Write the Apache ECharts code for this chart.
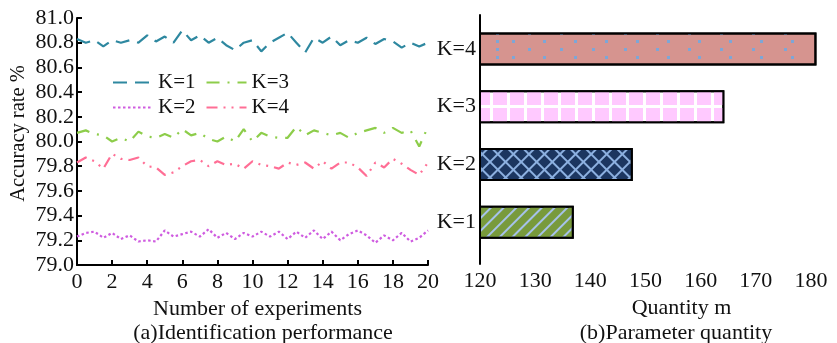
<!DOCTYPE html>
<html>
<head>
<meta charset="utf-8">
<script src="https://cdn.jsdelivr.net/npm/echarts@6/dist/echarts.min.js"></script>
<style>
  html, body { margin: 0; padding: 0; background: #fff; }
  #chart { width: 837px; height: 343px; }
</style>
</head>
<body>
<div id="chart"></div>
<script>
// (a) accuracy per experiment
const expNums = [0, 0.5, 1, 1.5, 2, 2.5, 3, 3.5, 4, 4.5, 5, 5.5, 6, 6.5, 7, 7.5, 8, 8.5, 9, 9.5, 10,
    10.5, 11, 11.5, 12, 12.5, 13, 13.5, 14, 14.5, 15, 15.5, 16, 16.5, 17, 17.5, 18, 18.5, 19, 19.5, 20];
const accK1 = [80.83, 80.80, 80.82, 80.77, 80.82, 80.80, 80.82, 80.80, 80.86, 80.81, 80.85, 80.80, 80.90, 80.82,
    80.86, 80.80, 80.84, 80.78, 80.74, 80.80, 80.82, 80.73, 80.80, 80.84, 80.88, 80.80, 80.72, 80.84, 80.80,
    80.85, 80.78, 80.82, 80.80, 80.84, 80.79, 80.83, 80.81, 80.76, 80.80, 80.77, 80.80];
const accK2 = [79.23, 79.26, 79.27, 79.22, 79.26, 79.21, 79.24, 79.19, 79.20, 79.19, 79.28, 79.23, 79.25, 79.27,
    79.23, 79.29, 79.22, 79.26, 79.21, 79.26, 79.23, 79.27, 79.23, 79.27, 79.21, 79.27, 79.22, 79.28, 79.21,
    79.27, 79.20, 79.25, 79.28, 79.24, 79.18, 79.24, 79.20, 79.26, 79.19, 79.22, 79.28];
const accK3 = [80.07, 80.09, 80.06, 80.05, 80.00, 80.03, 80.00, 80.08, 80.04, 80.03, 80.06, 80.03, 80.10, 80.05,
    80.07, 80.02, 80.00, 80.04, 80.00, 80.10, 80.00, 80.07, 80.04, 80.03, 80.03, 80.12, 80.05, 80.09, 80.07,
    80.05, 80.07, 80.03, 80.07, 80.09, 80.11, 80.07, 80.11, 80.07, 80.09, 79.96, 80.12];
const accK4 = [79.83, 79.87, 79.84, 79.78, 79.90, 79.86, 79.85, 79.87, 79.80, 79.79, 79.73, 79.75, 79.80, 79.84,
    79.85, 79.80, 79.84, 79.81, 79.82, 79.78, 79.84, 79.81, 79.80, 79.78, 79.83, 79.81, 79.83, 79.78, 79.84,
    79.78, 79.83, 79.83, 79.79, 79.72, 79.83, 79.79, 79.86, 79.82, 79.77, 79.73, 79.83];
const lineNames = ['K=1', 'K=2', 'K=3', 'K=4'];

// (b) parameter quantity
const barCats = ['K=1', 'K=2', 'K=3', 'K=4'];
const paramQty = [137, 147.7, 164.3, 181];
const qtyTicks = [120, 130, 140, 150, 160, 170, 180];

const FONT = 'Liberation Serif';

function pairs(xs, ys) {
    return xs.map(function (x, i) { return [x, ys[i]]; });
}

const chart = echarts.init(document.getElementById('chart'), null, { renderer: 'canvas' });

const axisLineStyle = { color: '#000', width: 2 };
const labelStyle = { fontFamily: FONT, fontSize: 22, color: '#111' };

// bar fills with patterns
const barStyles = [
    { color: '#a6c2ea', decal: { symbol: 'rect', symbolSize: 1, color: '#789a3c', dashArrayX: [1, 0], dashArrayY: [7, 1.4], rotation: -Math.PI / 4 } },
    { color: '#8cb0e0', decal: { symbol: 'rect', symbolSize: 1, color: '#1c3660', dashArrayX: [9, 1.5], dashArrayY: [9, 1.5], rotation: Math.PI / 4 } },
    { color: '#ffffff', decal: { symbol: 'rect', symbolSize: 1, color: '#ffc9ff', dashArrayX: [14, 2.2], dashArrayY: [14.5, 2.2], rotation: 0 } },
    { color: '#d6948f', decal: { symbol: 'rect', symbolSize: 1, color: '#7ea6d6', dashArrayX: [[3, 28], [0, 15.5, 3, 12.5]], dashArrayY: [3, 5], rotation: 0 } }
];

const legendText = { fontFamily: FONT, fontSize: 21, color: '#111' };

const option = {
    animation: false,
    backgroundColor: '#fff',
    textStyle: { fontFamily: FONT },
    title: [
        { text: '(a)Identification performance', left: 258, top: 317, textAlign: 'center',
          textStyle: { fontFamily: FONT, fontSize: 22, fontWeight: 'normal', color: '#111' } },
        { text: '(b)Parameter quantity', left: 671, top: 317, textAlign: 'center',
          textStyle: { fontFamily: FONT, fontSize: 22, fontWeight: 'normal', color: '#111' } }
    ],
    legend: [
        { data: ['K=1', 'K=3'], left: 112, top: 72, padding: 0, itemWidth: 40, itemHeight: 14, itemGap: 10,
          itemStyle: { opacity: 0 }, textStyle: legendText },
        { data: ['K=2', 'K=4'], left: 112, top: 97, padding: 0, itemWidth: 40, itemHeight: 14, itemGap: 10,
          itemStyle: { opacity: 0 }, textStyle: legendText }
    ],
    grid: [
        { left: 77, right: 409, top: 18, bottom: 78 },
        { left: 480, right: 4, top: 20, bottom: 92 },
        { left: 480, right: 4, top: 15, bottom: 79 }
    ],
    xAxis: [
        {
            type: 'value', gridIndex: 0, min: 0, max: 20, interval: 2,
            name: 'Number of experiments', nameLocation: 'middle', nameGap: 24,
            nameTextStyle: Object.assign({ padding: [0, 0, 0, 10] }, labelStyle),
            axisLine: { lineStyle: axisLineStyle },
            axisTick: { inside: true, length: 5, lineStyle: axisLineStyle },
            axisLabel: Object.assign({ margin: 6 }, labelStyle),
            splitLine: { show: false }
        },
        {
            type: 'value', gridIndex: 1, min: 120, max: 184, offset: 13,
            name: 'Quantity m', nameLocation: 'middle', nameGap: 27,
            nameTextStyle: Object.assign({ padding: [0, 0, 0, 50] }, labelStyle),
            axisLine: { lineStyle: axisLineStyle },
            axisTick: { inside: true, length: 5, lineStyle: axisLineStyle, customValues: qtyTicks },
            axisLabel: Object.assign({ margin: 6, customValues: qtyTicks }, labelStyle),
            splitLine: { show: false }
        },
        { type: 'value', gridIndex: 2, show: false }
    ],
    yAxis: [
        {
            type: 'value', gridIndex: 0, min: 79, max: 81, interval: 0.2,
            name: 'Accuracy rate %', nameLocation: 'middle', nameGap: 48,
            nameTextStyle: { fontFamily: FONT, fontSize: 20.5, color: '#111', padding: [0, 0, 0, 16] },
            axisLine: { lineStyle: axisLineStyle },
            axisTick: { inside: true, length: 5, lineStyle: axisLineStyle },
            axisLabel: Object.assign({ margin: 3, formatter: function (v) { return v.toFixed(1); } }, labelStyle),
            splitLine: { show: false }
        },
        {
            type: 'category', gridIndex: 1, data: barCats,
            axisLine: { show: false },
            axisTick: { show: false },
            axisLabel: Object.assign({ margin: 4 }, labelStyle)
        },
        {
            type: 'value', gridIndex: 2,
            axisLine: { show: true, lineStyle: axisLineStyle },
            axisTick: { show: false },
            axisLabel: { show: false },
            splitLine: { show: false }
        }
    ],
    series: [
        { name: lineNames[0], type: 'line', xAxisIndex: 0, yAxisIndex: 0, symbol: 'none',
          lineStyle: { color: '#2e88a0', width: 2.2, type: [14, 8] }, itemStyle: { color: '#2e88a0' },
          data: pairs(expNums, accK1) },
        { name: lineNames[1], type: 'line', xAxisIndex: 0, yAxisIndex: 0, symbol: 'none',
          lineStyle: { color: '#cf5ce0', width: 2.2, type: [2.5, 2.5] }, itemStyle: { color: '#cf5ce0' },
          data: pairs(expNums, accK2) },
        { name: lineNames[2], type: 'line', xAxisIndex: 0, yAxisIndex: 0, symbol: 'none',
          lineStyle: { color: '#8dcd4a', width: 2.2, type: [13, 8, 2, 8] }, itemStyle: { color: '#8dcd4a' },
          data: pairs(expNums, accK3) },
        { name: lineNames[3], type: 'line', xAxisIndex: 0, yAxisIndex: 0, symbol: 'none',
          lineStyle: { color: '#ff6e95', width: 2.2, type: [11, 6, 2, 6, 2, 6] }, itemStyle: { color: '#ff6e95' },
          data: pairs(expNums, accK4) },
        {
            name: 'qty', type: 'bar', xAxisIndex: 1, yAxisIndex: 1, barWidth: 33, clip: true,
            itemStyle: { borderColor: '#000', borderWidth: 2 },
            data: paramQty.map(function (v, i) {
                return {
                    value: v,
                    itemStyle: {
                        color: barStyles[i].color,
                        decal: barStyles[i].decal,
                        borderColor: '#000',
                        borderWidth: 2
                    }
                };
            })
        }
    ]
};

chart.setOption(option);
window.addEventListener('resize', function () {
    chart.resize();
});
</script>
</body>
</html>
